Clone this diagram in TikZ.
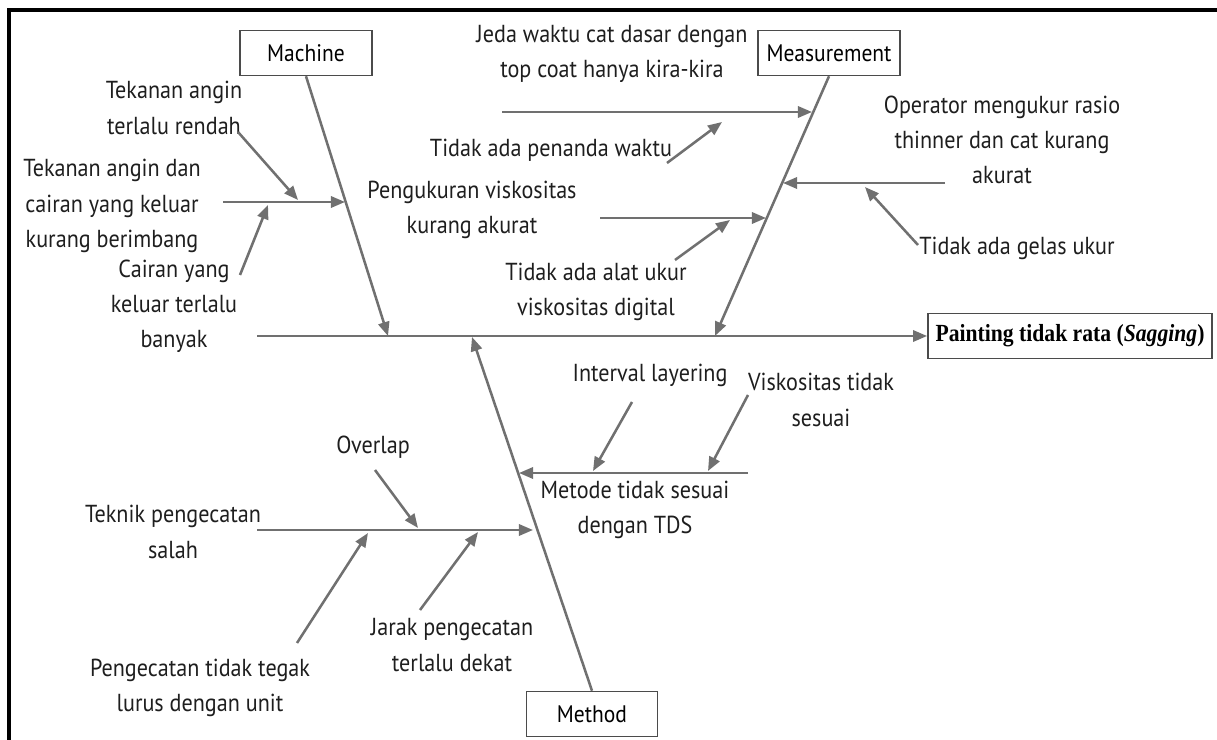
\documentclass[tikz,border=0pt]{standalone}
\usepackage{fontspec}
\setmainfont{PT Sans}[FakeStretch=0.9]
\newfontfamily\effectfont{Liberation Serif}[FakeStretch=0.88]
\usetikzlibrary{arrows.meta,positioning}
\definecolor{bonegray}{RGB}{112,112,112}
\definecolor{inkgray}{RGB}{30,30,30}

\begin{document}
\begin{tikzpicture}[x=0.025cm, y=-0.025cm, >={Triangle[length=10pt,width=8pt]}, line width=1.8pt,
    cause/.style={align=center, text=inkgray, inner sep=0pt, font=\fontsize{17.5}{25}\selectfont},
    catbox/.style={rectangle, draw=inkgray!80, line width=1.2pt, fill=white, minimum height=1.12cm, text=black, font=\fontsize{17}{18}\selectfont},
    bone/.style={draw=bonegray, ->}]
    \useasboundingbox (0,0) rectangle (1217,740);
    % frame
    \draw[line width=2.5pt, black] (9,740) -- (9,10) -- (1217,10);

    % head and categories
    \node (Effect) [catbox, minimum width=7.1cm, font=\effectfont\fontsize{17.5}{18}\selectfont\bfseries] at (1070,336) {Painting tidak rata (\textit{Sagging})};
    \node (Machine) [catbox, minimum width=3.3cm] at (306,53) {Machine};
    \node (Measure) [catbox, minimum width=3.55cm] at (829,53) {Measurement};
    \node (Method) [catbox, minimum width=3.28cm] at (592,714) {Method};

    \coordinate (tail) at (257,336);
    \coordinate (mhead) at (388,336);
    \coordinate (shead) at (715,336);
    \coordinate (dhead) at (472,337);
    \draw[bone] (tail) -- (Effect);
    \draw[bone] (Machine.south) -- (mhead);
    \draw[bone] (Measure.south) -- (shead);
    \draw[bone] (Method.north) -- (dhead);

    % machine
    \node (C1) [cause] at (174,108) {Tekanan angin\\terlalu rendah};
    \node (C2) [cause] at (112,206) {Tekanan angin dan\\cairan yang keluar\\kurang berimbang};
    \node (C3) [cause] at (174,306) {Cairan yang\\keluar terlalu\\banyak};
    \coordinate (m1s) at (223,202);
    \coordinate (m1e) at (345,202);
    \coordinate (m1a) at (238,132);
    \coordinate (m1ae) at (298,200);
    \coordinate (m1b) at (240,275);
    \coordinate (m1be) at (268,205);
    \draw[bone] (m1s) -- (m1e);
    \draw[bone] (m1a) -- (m1ae);
    \draw[bone] (m1b) -- (m1be);

    % measurement
    \node (C4) [cause] at (612,54) {Jeda waktu cat dasar dengan\\top coat hanya kira-kira};
    \node (C5) [cause] at (551,150) {Tidak ada penanda waktu};
    \node (C6) [cause] at (472,210) {Pengukuran viskositas\\kurang akurat};
    \node (C7) [cause] at (596,292) {Tidak ada alat ukur\\viskositas digital};
    \node (C8) [cause] at (1002,140) {Operator mengukur rasio\\thinner dan cat kurang\\akurat};
    \node (C9) [cause] at (1017,248) {Tidak ada gelas ukur};
    \coordinate (s1s) at (502,112);
    \coordinate (s1e) at (812,112);
    \coordinate (s1a) at (667,163);
    \coordinate (s1ae) at (722,122);
    \coordinate (s2s) at (600,218);
    \coordinate (s2e) at (766,218);
    \coordinate (s2a) at (675,260);
    \coordinate (s2ae) at (730,220);
    \coordinate (s3s) at (945,183);
    \coordinate (s3e) at (783,183);
    \coordinate (s3a) at (918,245);
    \coordinate (s3ae) at (865,187);
    \draw[bone] (s1s) -- (s1e);
    \draw[bone] (s1a) -- (s1ae);
    \draw[bone] (s2s) -- (s2e);
    \draw[bone] (s2a) -- (s2ae);
    \draw[bone] (s3s) -- (s3e);
    \draw[bone] (s3a) -- (s3ae);

    % method
    \node (C10) [cause] at (650,375) {Interval layering};
    \node (C11) [cause] at (821,400) {Viskositas tidak\\sesuai};
    \node (C12) [cause] at (635,510) {Metode tidak sesuai\\dengan TDS};
    \node (C13) [cause] at (173,532) {Teknik pengecatan\\salah};
    \node (C14) [cause] at (373,447) {Overlap};
    \node (C15) [cause] at (200,688) {Pengecatan tidak tegak\\lurus dengan unit};
    \node (C16) [cause] at (452,645) {Jarak pengecatan\\terlalu dekat};
    \coordinate (d1s) at (748,473);
    \coordinate (d1e) at (519,473);
    \coordinate (d1a) at (632,402);
    \coordinate (d1ae) at (593,471);
    \coordinate (d1b) at (748,395);
    \coordinate (d1be) at (708,471);
    \coordinate (d2s) at (257,530);
    \coordinate (d2e) at (533,530);
    \coordinate (d2a) at (375,470);
    \coordinate (d2ae) at (418,528);
    \coordinate (d2b) at (297,643);
    \coordinate (d2be) at (368,533);
    \coordinate (d2c) at (420,610);
    \coordinate (d2ce) at (478,532);
    \draw[bone] (d1s) -- (d1e);
    \draw[bone] (d1a) -- (d1ae);
    \draw[bone] (d1b) -- (d1be);
    \draw[bone] (d2s) -- (d2e);
    \draw[bone] (d2a) -- (d2ae);
    \draw[bone] (d2b) -- (d2be);
    \draw[bone] (d2c) -- (d2ce);
\end{tikzpicture}
\end{document}
